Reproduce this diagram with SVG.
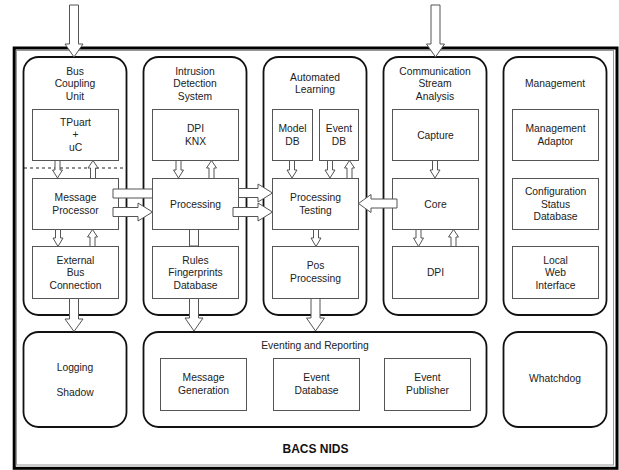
<svg xmlns="http://www.w3.org/2000/svg" width="619" height="470" viewBox="0 0 619 470">
<style>
.col{fill:#fff;stroke:#111;stroke-width:1.8}
.box{fill:#fff;stroke:#555;stroke-width:1}
.arr{fill:#fff;stroke:#555;stroke-width:1}
text{font-family:"Liberation Sans",Arial,Helvetica,sans-serif;font-size:10.3px;fill:#222;text-anchor:middle}
.bold{font-weight:bold;font-size:12px;fill:#111}
</style>
<rect x="0" y="0" width="619" height="470" fill="#fff"/>
<g id="frame">
<rect x="14.2" y="48" width="602.8" height="420.3" fill="#fff" stroke="#000" stroke-width="3"/>
<rect x="16.5" y="50.5" width="597" height="414.5" fill="none" stroke="#999" stroke-width="1"/>
<text class="bold" x="315.5" y="452.5">BACS NIDS</text>
</g>
<g id="columns">
<g id="bus-coupling-unit"><rect class="col" x="23.5" y="57" width="103" height="258" rx="15"/>
<text x="75" y="74.5">Bus</text><text x="75" y="87">Coupling</text><text x="75" y="99.5">Unit</text></g>
<g id="intrusion-detection-system"><rect class="col" x="143.5" y="57" width="103" height="258" rx="15"/>
<text x="195" y="74.5">Intrusion</text><text x="195" y="87">Detection</text><text x="195" y="99.5">System</text></g>
<g id="automated-learning"><rect class="col" x="263.5" y="57" width="103" height="258" rx="15"/>
<text x="315" y="80.5">Automated</text><text x="315" y="93">Learning</text></g>
<g id="communication-stream-analysis"><rect class="col" x="383.5" y="57" width="103" height="258" rx="15"/>
<text x="435" y="74.5">Communication</text><text x="435" y="87">Stream</text><text x="435" y="99.5">Analysis</text></g>
<g id="management"><rect class="col" x="503.5" y="57" width="103" height="258" rx="15"/>
<text x="555" y="86.5">Management</text></g>
<g id="logging-shadow"><rect class="col" x="23.5" y="332" width="103" height="95" rx="15"/>
<text x="75" y="370.5">Logging</text><text x="75" y="395.5">Shadow</text></g>
<g id="eventing-reporting"><rect class="col" x="143.5" y="332" width="343" height="95" rx="15"/>
<text x="315" y="348.5">Eventing and Reporting</text></g>
<g id="whatchdog"><rect class="col" x="503.5" y="332" width="103" height="95" rx="15"/>
<text x="555" y="382">Whatchdog</text></g>
</g>
<line x1="24" y1="168" x2="126" y2="168" stroke="#222" stroke-width="1" stroke-dasharray="3,3"/>
<g id="connectors-under">
<path class="arr" d="M189.5,229 H198.5 V246 H189.5 Z"/>
</g>
<g id="boxes">
<g id="tpuart"><rect class="box" x="32.5" y="109.5" width="86" height="51"/>
<text x="75.5" y="125.5">TPuart</text><text x="75.5" y="138">+</text><text x="75.5" y="150.5">uC</text></g>
<g id="message-processor"><rect class="box" x="32.5" y="178.5" width="86" height="51"/>
<text x="75.5" y="201">Message</text><text x="75.5" y="213.5">Processor</text></g>
<g id="external-bus"><rect class="box" x="32.5" y="246.5" width="86" height="52"/>
<text x="75.5" y="263.5">External</text><text x="75.5" y="276">Bus</text><text x="75.5" y="288.5">Connection</text></g>
<g id="dpi-knx"><rect class="box" x="152.5" y="109.5" width="86" height="51"/>
<text x="195.5" y="132">DPI</text><text x="195.5" y="145">KNX</text></g>
<g id="processing"><rect class="box" x="152.5" y="178.5" width="86" height="51"/>
<text x="195.5" y="207.5">Processing</text></g>
<g id="rules"><rect class="box" x="152.5" y="246.5" width="86" height="52"/>
<text x="195.5" y="263.5">Rules</text><text x="195.5" y="276">Fingerprints</text><text x="195.5" y="288.5">Database</text></g>
<g id="model-db"><rect class="box" x="272.5" y="109.5" width="40" height="51"/>
<text x="292.5" y="132">Model</text><text x="292.5" y="145">DB</text></g>
<g id="event-db"><rect class="box" x="319.5" y="109.5" width="39" height="51"/>
<text x="339" y="132">Event</text><text x="339" y="145">DB</text></g>
<g id="processing-testing"><rect class="box" x="272.5" y="178.5" width="86" height="51"/>
<text x="315.5" y="201">Processing</text><text x="315.5" y="213.5">Testing</text></g>
<g id="pos-processing"><rect class="box" x="272.5" y="246.5" width="86" height="52"/>
<text x="315.5" y="269">Pos</text><text x="315.5" y="281.5">Processing</text></g>
<g id="capture"><rect class="box" x="392.5" y="109.5" width="86" height="51"/>
<text x="435.5" y="138.5">Capture</text></g>
<g id="core"><rect class="box" x="392.5" y="178.5" width="86" height="51"/>
<text x="435.5" y="207.5">Core</text></g>
<g id="dpi"><rect class="box" x="392.5" y="246.5" width="86" height="52"/>
<text x="435.5" y="275.5">DPI</text></g>
<g id="management-adaptor"><rect class="box" x="512.5" y="109.5" width="86" height="51"/>
<text x="555.5" y="132">Management</text><text x="555.5" y="145">Adaptor</text></g>
<g id="config-status-db"><rect class="box" x="512.5" y="178.5" width="86" height="51"/>
<text x="555.5" y="195.3">Configuration</text><text x="555.5" y="207.7">Status</text><text x="555.5" y="220">Database</text></g>
<g id="local-web-interface"><rect class="box" x="512.5" y="246.5" width="86" height="52"/>
<text x="555.5" y="263.5">Local</text><text x="555.5" y="276">Web</text><text x="555.5" y="288.5">Interface</text></g>
<g id="message-generation"><rect class="box" x="160.5" y="358.5" width="86" height="52"/>
<text x="203.5" y="381">Message</text><text x="203.5" y="393.5">Generation</text></g>
<g id="event-database"><rect class="box" x="273.5" y="358.5" width="86" height="52"/>
<text x="316.5" y="381">Event</text><text x="316.5" y="393.5">Database</text></g>
<g id="event-publisher"><rect class="box" x="384.5" y="358.5" width="86" height="52"/>
<text x="427.5" y="381">Event</text><text x="427.5" y="393.5">Publisher</text></g>
</g>
<g id="connectors">
<path class="arr" d="M69.5,5 H78.5 V44 H83 L74,57 L65,44 H69.5 Z"/>
<path class="arr" d="M431,5 H440 V44 H444.5 L435.5,57 L426.5,44 H431 Z"/>
<path class="arr" d="M69.5,298.5 H78.5 V319 H83 L74,331.5 L65,319 H69.5 Z"/>
<path class="arr" d="M189.5,298.5 H198.5 V318 H203 L194,331 L185,318 H189.5 Z"/>
<path class="arr" d="M311,298.5 H320 V318 H324.5 L315.5,331 L306.5,318 H311 Z"/>
<path class="arr" d="M55,160.5 H60 V170 H62.5 L57.5,178 L52.5,170 H55 Z"/>
<path class="arr" d="M176,160.5 H181 V170 H183.5 L178.5,178 L173.5,170 H176 Z"/>
<path class="arr" d="M289.5,160.5 H294.5 V170 H297 L292,178 L287,170 H289.5 Z"/>
<path class="arr" d="M327.5,160.5 H332.5 V170 H335 L330,178 L325,170 H327.5 Z"/>
<path class="arr" d="M432.5,160.5 H437.5 V170 H440 L435,178 L430,170 H432.5 Z"/>
<path class="arr" d="M90.5,178.5 V168 H88 L93,160.5 L98,168 H95.5 V178.5 Z"/>
<path class="arr" d="M209,178.5 V168 H206.5 L211.5,160.5 L216.5,168 H214 V178.5 Z"/>
<path class="arr" d="M347,178.5 V168 H344.5 L349.5,160.5 L354.5,168 H352 V178.5 Z"/>
<path class="arr" d="M55.5,229.5 H60.5 V238 H63 L58,246.5 L53,238 H55.5 Z"/>
<path class="arr" d="M313.5,229.5 H318.5 V238 H321 L316,246.5 L311,238 H313.5 Z"/>
<path class="arr" d="M416,229.5 H421 V238 H423.5 L418.5,246.5 L413.5,238 H416 Z"/>
<path class="arr" d="M90,246.5 V237 H87.5 L92.5,229.5 L97.5,237 H95 V246.5 Z"/>
<path class="arr" d="M451,246.5 V237 H448.5 L453.5,229.5 L458.5,237 H456 V246.5 Z"/>
<path class="arr" d="M113,189 H152.5 V198 H113 Z"/>
<path class="arr" d="M113,207.5 H138 V203 L152.5,212 L138,221 V216.5 H113 Z"/>
<path class="arr" d="M238.5,188.5 H258 V184 L272.5,193 L258,202 V197.5 H238.5 Z"/>
<path class="arr" d="M233,207.5 H258 V203 L272.5,212 L258,221 V216.5 H233 Z"/>
<path class="arr" d="M397,199 H371 V194.5 L358.5,203.5 L371,212.5 V208 H397 Z"/>
</g>
</svg>
